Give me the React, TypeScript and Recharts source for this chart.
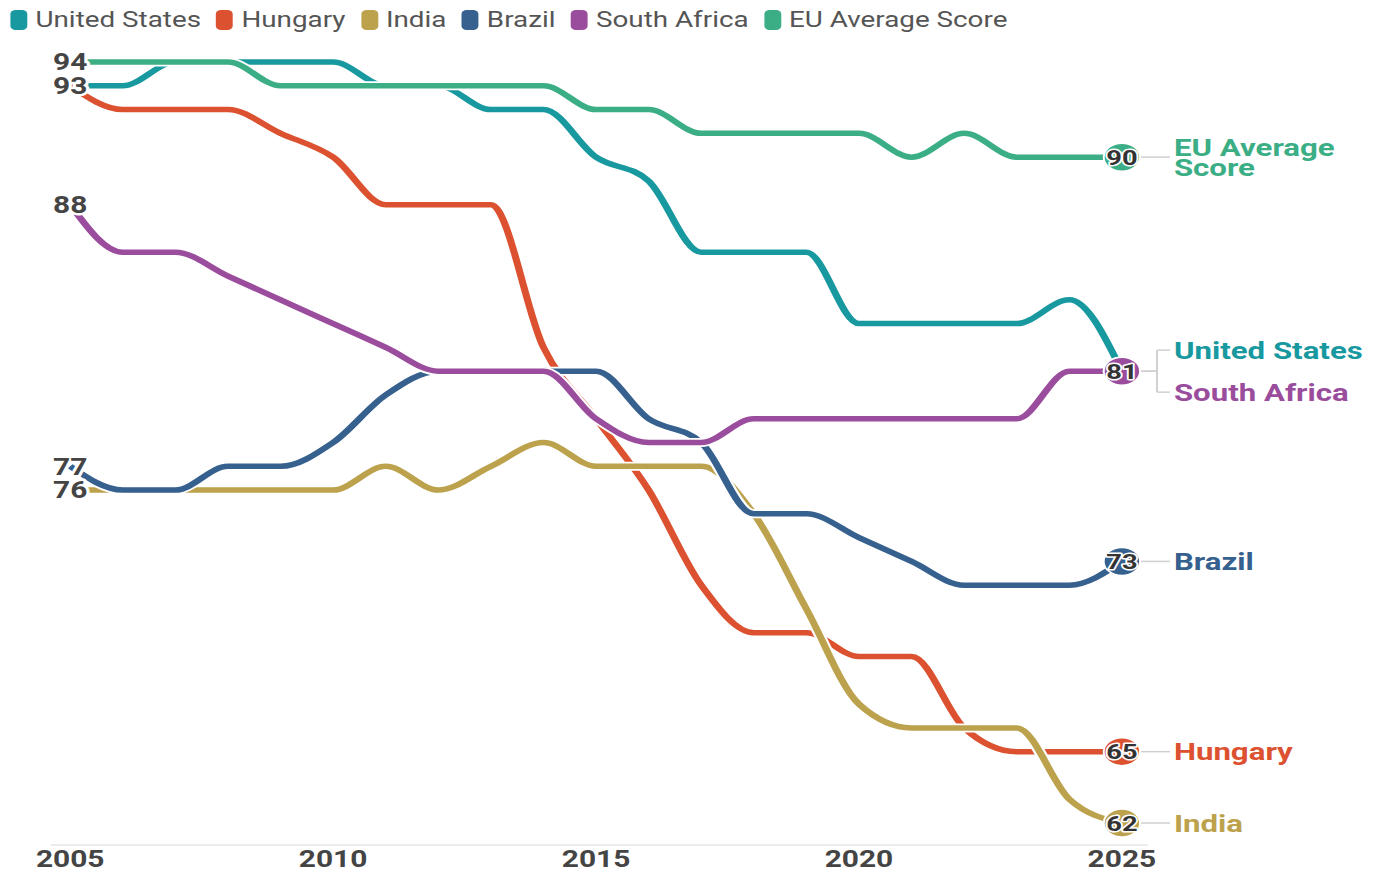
import React from 'react';
import { LineChart, Line, XAxis, YAxis } from 'recharts';

const years = [2005, 2006, 2007, 2008, 2009, 2010, 2011, 2012, 2013, 2014, 2015, 2016, 2017, 2018, 2019, 2020, 2021, 2022, 2023, 2024, 2025];
const usValues = [93, 93, 94, 94, 94, 94, 93, 93, 92, 92, 90, 89, 86, 86, 86, 83, 83, 83, 83, 84, 81];
const huValues = [93, 92, 92, 92, 91, 90, 88, 88, 88, 82, 79, 76, 72, 70, 70, 69, 69, 66, 65, 65, 65];
const inValues = [76, 76, 76, 76, 76, 76, 77, 76, 77, 78, 77, 77, 77, 75, 71, 67, 66, 66, 66, 63, 62];
const brValues = [77, 76, 76, 77, 77, 78, 80, 81, 81, 81, 81, 79, 78, 75, 75, 74, 73, 72, 72, 72, 73];
const saValues = [88, 86, 86, 85, 84, 83, 82, 81, 81, 81, 79, 78, 78, 79, 79, 79, 79, 79, 79, 81, 81];
const euValues = [94, 94, 94, 94, 93, 93, 93, 93, 93, 93, 92, 92, 91, 91, 91, 91, 90, 91, 90, 90, 90];

const seriesNames = ['United States', 'Hungary', 'India', 'Brazil', 'South Africa', 'EU Average Score'];
const seriesColors = ['#18989f', '#dc5130', '#bca24c', '#36608e', '#9b4d9d', '#3bae85'];
const seriesKeys = ['us', 'hu', 'in', 'br', 'sa', 'eu'];
const seriesValues = [usValues, huValues, inValues, brValues, saValues, euValues];
const xTicks = [2005, 2010, 2015, 2020, 2025];

const data = years.map((year, i) => {
  const row: Record<string, number> = { year };
  seriesKeys.forEach((k, s) => {
    row[k] = seriesValues[s][i];
  });
  return row;
});

const SX = 1.3;
const W = Math.round(1381 / SX);
const H = 872;
const FONT = 'Roboto, "Noto Sans", sans-serif';
const lastIdx = years.length - 1;

function startShown(s: number) {
  return seriesValues.findIndex((v) => v[0] === seriesValues[s][0]) === s;
}

function endGroup(s: number) {
  const last = seriesValues[s][lastIdx];
  const members = seriesValues.map((v, i) => (v[lastIdx] === last ? i : -1)).filter((i) => i >= 0);
  return { pos: members.indexOf(s), n: members.length };
}

function wrapName(name: string) {
  if (name.length <= 14) return [name];
  const cut = name.lastIndexOf(' ');
  return [name.slice(0, cut), name.slice(cut + 1)];
}

function makeLabelDot(s: number) {
  return (props: any) => {
    const { cx, cy, index, value } = props;
    const k = `lbl-${s}-${index}`;
    if (cx == null || cy == null) return <g key={k} />;
    if (index === 0 && startShown(s)) {
      return (
        <g key={k}>
          <text
            x={cx}
            y={cy}
            dy="0.36em"
            textAnchor="middle"
            fontFamily={FONT}
            fontSize={23}
            fontWeight={700}
            fill="#444"
            stroke="#fff"
            strokeWidth={5}
            paintOrder="stroke"
            strokeLinejoin="round"
          >
            {value}
          </text>
        </g>
      );
    }
    if (index === lastIdx) {
      const { pos, n } = endGroup(s);
      const off = (pos - (n - 1) / 2) * 42;
      const color = seriesColors[s];
      const lines = wrapName(seriesNames[s]);
      const r = 14;
      const lx = cx + 40;
      return (
        <g key={k}>
          {n > 1 ? (
            <g stroke="#d0d0d0" strokeWidth={1.5} fill="none">
              <line x1={cx + r} y1={cy} x2={cx + 27} y2={cy} />
              <line x1={cx + 27} y1={cy} x2={cx + 27} y2={cy + off} />
              <line x1={cx + 27} y1={cy + off} x2={cx + 37} y2={cy + off} />
            </g>
          ) : (
            <line x1={cx + r} y1={cy} x2={cx + 37} y2={cy} stroke="#d0d0d0" strokeWidth={1.5} />
          )}
          <circle cx={cx} cy={cy} r={r} fill={color} stroke="#fff" strokeWidth={1.5} />
          <text
            x={cx}
            y={cy}
            dy="0.36em"
            textAnchor="middle"
            fontFamily={FONT}
            fontSize={21}
            fontWeight={700}
            fill="#333"
            stroke="#fff"
            strokeWidth={3}
            paintOrder="stroke"
            strokeLinejoin="round"
          >
            {value}
          </text>
          <text fontFamily={FONT} fontSize={24} fontWeight={700} fill={color}>
            {lines.map((t, i) => (
              <tspan key={i} x={lx} y={cy + off + (i - (lines.length - 1) / 2) * 20} dy="0.36em">
                {t}
              </tspan>
            ))}
          </text>
        </g>
      );
    }
    return <g key={k} />;
  };
}

function LegendRow() {
  return (
    <div
      style={{
        position: 'absolute',
        left: 8,
        top: 10,
        display: 'flex',
        alignItems: 'center',
        fontFamily: FONT,
        fontSize: 21.4,
        color: '#555',
        whiteSpace: 'nowrap',
        lineHeight: '20px',
      }}
    >
      {seriesNames.map((name, s) => (
        <div key={name} style={{ display: 'flex', alignItems: 'center', marginRight: 11.8 }}>
          <span
            style={{
              display: 'inline-block',
              width: 13,
              height: 20,
              borderRadius: 4,
              background: seriesColors[s],
              marginRight: 6.3,
            }}
          />
          <span>{name}</span>
        </div>
      ))}
    </div>
  );
}

export default function App() {
  return (
    <div
      style={{
        position: 'absolute',
        left: 0,
        top: 0,
        width: W,
        height: H,
        transform: `scaleX(${SX})`,
        transformOrigin: '0 0',
        background: '#fff',
      }}
    >
      <LineChart
        width={W}
        height={H}
        data={data}
        margin={{ top: 62, right: W - 883, bottom: 0, left: 39 }}
        style={{ fontFamily: FONT }}
      >
        <XAxis
          dataKey="year"
          type="number"
          domain={[2005, 2025]}
          ticks={xTicks}
          padding={{ left: 15, right: 20 }}
          height={27}
          tickLine={false}
          tickMargin={0}
          axisLine={{ stroke: '#e6e6e6', strokeWidth: 1.5 }}
          tick={{ fill: '#444', fontSize: 23, fontWeight: 700, fontFamily: FONT }}
          interval={0}
        />
        <YAxis hide type="number" domain={[61.075, 94]} />
        {seriesKeys.flatMap((k, s) => [
          <Line
            key={`halo-${k}`}
            type="monotoneX"
            dataKey={k}
            stroke="#ffffff"
            strokeWidth={9}
            dot={false}
            activeDot={false}
            isAnimationActive={false}
          />,
          <Line
            key={`line-${k}`}
            type="monotoneX"
            dataKey={k}
            name={seriesNames[s]}
            stroke={seriesColors[s]}
            strokeWidth={5.5}
            dot={false}
            activeDot={false}
            isAnimationActive={false}
          />,
        ])}
        {seriesKeys.map((k, s) => (
          <Line
            key={`labels-${k}`}
            type="monotoneX"
            dataKey={k}
            stroke="none"
            strokeWidth={0}
            dot={makeLabelDot(s)}
            activeDot={false}
            isAnimationActive={false}
          />
        ))}
      </LineChart>
      <LegendRow />
    </div>
  );
}
